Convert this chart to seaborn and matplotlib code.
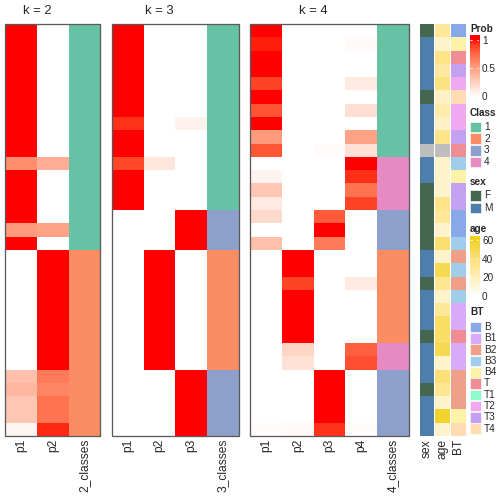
import numpy as np
import pandas as pd
import seaborn as sns
import matplotlib
matplotlib.use("Agg")
import matplotlib.pyplot as plt
from matplotlib.colors import ListedColormap, to_rgb
from matplotlib.patches import Rectangle

# ---------------- data ----------------
k2_p1 = [1, 1, 1, 1, 1, 1, 1, 1, 1, 1, 0.58, 1, 1, 1, 1, 0.52, 1,
         0, 0, 0, 0, 0, 0, 0, 0, 0, 0.33, 0.38, 0.30, 0.30, 0.05]
k2_p2 = [0, 0, 0, 0, 0, 0, 0, 0, 0, 0, 0.42, 0, 0, 0, 0, 0.48, 0,
         1, 1, 1, 1, 1, 1, 1, 1, 1, 0.67, 0.62, 0.70, 0.70, 0.95]
k2_class = [1, 1, 1, 1, 1, 1, 1, 1, 1, 1, 1, 1, 1, 1, 1, 1, 1,
            2, 2, 2, 2, 2, 2, 2, 2, 2, 2, 2, 2, 2, 2]

k3_p1 = [1, 1, 1, 1, 1, 1, 1, 0.93, 1, 1, 0.87, 1, 1, 1,
         0, 0, 0, 0, 0, 0, 0, 0, 0, 0, 0, 0, 0, 0, 0, 0, 0]
k3_p2 = [0, 0, 0, 0, 0, 0, 0, 0, 0, 0, 0.13, 0, 0, 0,
         0, 0, 0, 1, 1, 1, 1, 1, 1, 1, 1, 1, 0, 0, 0, 0, 0]
k3_p3 = [0, 0, 0, 0, 0, 0, 0, 0.07, 0, 0, 0, 0, 0, 0,
         1, 1, 1, 0, 0, 0, 0, 0, 0, 0, 0, 0, 1, 1, 1, 1, 1]
k3_class = [1, 1, 1, 1, 1, 1, 1, 1, 1, 1, 1, 1, 1, 1,
            3, 3, 3, 2, 2, 2, 2, 2, 2, 2, 2, 2, 3, 3, 3, 3, 3]

k4_p1 = [1, 0.97, 1, 1, 0.88, 1, 0.83, 1, 0.52, 0.82, 0, 0.06, 0.30, 0.12,
         0.20, 0, 0.33, 0, 0, 0, 0, 0, 0, 0, 0, 0, 0, 0, 0, 0, 0.02]
k4_p2 = [0, 0, 0, 0, 0, 0, 0, 0, 0, 0, 0, 0, 0, 0,
         0, 0, 0, 1, 1, 0.88, 1, 1, 1, 1, 0.22, 0.16, 0, 0, 0, 0, 0.03]
k4_p3 = [0, 0, 0, 0, 0, 0, 0, 0, 0, 0.02, 0, 0, 0, 0,
         0.80, 1, 0.67, 0, 0, 0, 0, 0, 0, 0, 0, 0, 1, 1, 1, 1, 0.93]
k4_p4 = [0, 0.03, 0, 0, 0.12, 0, 0.17, 0, 0.48, 0.16, 1, 0.94, 0.70, 0.88,
         0, 0, 0, 0, 0, 0.12, 0, 0, 0, 0, 0.78, 0.84, 0, 0, 0, 0, 0.02]
k4_class = [1, 1, 1, 1, 1, 1, 1, 1, 1, 1, 4, 4, 4, 4,
            3, 3, 3, 2, 2, 2, 2, 2, 2, 2, 4, 4, 3, 3, 3, 3, 3]

sex = ["F", "M", "M", "M", "M", "F", "M", "M", "M", None, "M", "M", "F", "F", "F", "F",
       "F", "M", "M", "F", "M", "M", "M", "F", "M", "M", "M", "F", "M", "M", "M"]
age = [30, 15, 35, 28, 37, 18, 25, 18, 35, np.nan, 15, 15, 15, 35, 30, 15,
       42, 15, 50, 33, 15, 30, 45, 45, 50, 15, 40, 33, 15, 58, 15]
BT = ["B", "B4", "T", "T3", "T2", "T4", "T2", "T2", "T3", "T", "B3", "B4", "T3", "T3", "B", "B",
      "B3", "B2", "B3", "B2", "B3", "B1", "B1", "T", "B1", "B1", "B2", "B2", "B2", "B4", "T4"]

class_levels = ["1", "2", "3", "4"]
sex_levels = ["F", "M"]
BT_levels = ["B", "B1", "B2", "B3", "B4", "T", "T1", "T2", "T3", "T4"]

# ---------------- styles ----------------
class_colors = ["#66C2A5", "#FC8D62", "#8DA0CB", "#E78AC3"]
sex_colors = ["#45664F", "#4E7EAB"]
na_color = "#BEBEBE"
BT_colors = ["#88A8E8", "#D8AAF8", "#F0A088", "#A0CEEA", "#FCF2A8",
             "#F08C94", "#8CFCCC", "#F0A8F0", "#C4A0F0", "#FFDCB4"]


def _srgb_to_lab(c):
    c = np.array(to_rgb(c))
    lin = np.where(c <= 0.04045, c / 12.92, ((c + 0.055) / 1.055) ** 2.4)
    M = np.array([[0.4124, 0.3576, 0.1805], [0.2126, 0.7152, 0.0722], [0.0193, 0.1192, 0.9505]])
    xyz = M @ lin / np.array([0.95047, 1.0, 1.08883])
    f = np.where(xyz > 0.008856, np.cbrt(xyz), 7.787 * xyz + 16 / 116)
    return np.array([116 * f[1] - 16, 500 * (f[0] - f[1]), 200 * (f[1] - f[2])])


def _lab_to_srgb(lab):
    L, a, b = lab
    fy = (L + 16) / 116
    fx = fy + a / 500
    fz = fy - b / 200
    f = np.array([fx, fy, fz])
    xyz = np.where(f ** 3 > 0.008856, f ** 3, (f - 16 / 116) / 7.787) * np.array([0.95047, 1.0, 1.08883])
    Mi = np.array([[3.2406, -1.5372, -0.4986], [-0.9689, 1.8758, 0.0415], [0.0557, -0.2040, 1.0570]])
    lin = np.clip(Mi @ xyz, 0, 1)
    s = np.where(lin <= 0.0031308, 12.92 * lin, 1.055 * lin ** (1 / 2.4) - 0.055)
    return np.clip(s, 0, 1)


def lab_ramp(c0, c1, n=256):
    l0, l1 = _srgb_to_lab(c0), _srgb_to_lab(c1)
    return ListedColormap([_lab_to_srgb(l0 + (l1 - l0) * t) for t in np.linspace(0, 1, n)])


prob_cmap = lab_ramp("white", "red")
age_cmap = lab_ramp("white", "#F0D21E")

W = H = 504
FONT = ["Liberation Sans", "DejaVu Sans"]
sns.set_theme(style="white")
plt.rcParams["font.family"] = FONT

fig = plt.figure(figsize=(7, 7), dpi=72)


def add_ax(x0, x1, y0, y1):
    return fig.add_axes([x0 / W, 1 - y1 / H, (x1 - x0) / W, (y1 - y0) / H])


TOP, BOT = 24, 436
CW = 31.7


def style_ax(ax):
    ax.tick_params(axis="x", length=0, pad=3, labelsize=12, rotation=90)
    ax.set_ylabel("")
    ax.set_xlabel("")
    for s in ax.spines.values():
        s.set_visible(False)


panels = [
    ("k = 2", 5.3, {"p1": k2_p1, "p2": k2_p2}, k2_class, "2_classes"),
    ("k = 3", 112.0, {"p1": k3_p1, "p2": k3_p2, "p3": k3_p3}, k3_class, "3_classes"),
    ("k = 4", 250.3, {"p1": k4_p1, "p2": k4_p2, "p3": k4_p3, "p4": k4_p4}, k4_class, "4_classes"),
]

class_cmap = ListedColormap(class_colors)
for title, x0, probs, cls, cname in panels:
    kk = len(probs)
    xm = x0 + kk * CW
    x1 = xm + CW
    df = pd.DataFrame(probs)
    ax = add_ax(x0, xm, TOP, BOT)
    sns.heatmap(df, ax=ax, cmap=prob_cmap, vmin=0, vmax=1, cbar=False,
                yticklabels=False, xticklabels=list(probs.keys()))
    style_ax(ax)
    axc = add_ax(xm, x1, TOP, BOT)
    sns.heatmap(pd.DataFrame({cname: cls}), ax=axc, cmap=class_cmap, vmin=0.5, vmax=4.5,
                cbar=False, yticklabels=False, xticklabels=[cname])
    style_ax(axc)
    fig.add_artist(Rectangle((x0 / W, 1 - BOT / H), (x1 - x0) / W, (BOT - TOP) / H,
                             transform=fig.transFigure, fill=False, edgecolor="#5A5A5A", lw=1.3))
    fig.text(((x0 + xm) / 2) / W, 1 - 10.5 / H, title, ha="center", va="center", fontsize=13)

# ---------------- annotations ----------------
sex_code = [np.nan if s is None else sex_levels.index(s) for s in sex]
ax_s = add_ax(420, 434, TOP, BOT)
ax_s.set_facecolor(na_color)
sns.heatmap(pd.DataFrame({"sex": sex_code}), ax=ax_s, cmap=ListedColormap(sex_colors),
            vmin=-0.5, vmax=1.5, cbar=False, yticklabels=False, xticklabels=["sex"])
style_ax(ax_s)

ax_a = add_ax(435, 450, TOP, BOT)
ax_a.set_facecolor(na_color)
sns.heatmap(pd.DataFrame({"age": age}), ax=ax_a, cmap=age_cmap, vmin=0, vmax=60,
            cbar=False, yticklabels=False, xticklabels=["age"])
style_ax(ax_a)

bt_code = [BT_levels.index(b) for b in BT]
ax_b = add_ax(451, 466, TOP, BOT)
sns.heatmap(pd.DataFrame({"BT": bt_code}), ax=ax_b, cmap=ListedColormap(BT_colors),
            vmin=-0.5, vmax=9.5, cbar=False, yticklabels=False, xticklabels=["BT"])
style_ax(ax_b)

# ---------------- legends ----------------
LX = 470
LFS = 10


def legend_title(y, txt):
    fig.text(LX / W, 1 - y / H, txt, ha="left", va="center", fontsize=LFS, fontweight="bold")


def color_bar(y_top, y_bot, cmap, vmin, vmax, ticks, ext_top, ext_bot):
    cax = add_ax(LX, LX + 9, y_top, y_bot)
    grad = np.linspace(vmin - ext_bot, vmax + ext_top, 200).reshape(-1, 1)
    cax.imshow(grad, aspect="auto", origin="lower", cmap=cmap, vmin=vmin, vmax=vmax,
               extent=(0, 1, vmin - ext_bot, vmax + ext_top))
    cax.set_xlim(0, 1)
    cax.set_ylim(vmin - ext_bot, vmax + ext_top)
    cax.set_xticks([])
    cax.yaxis.tick_right()
    cax.set_yticks(ticks)
    cax.set_yticklabels([("%g" % t) for t in ticks])
    cax.tick_params(axis="y", length=0, pad=3, labelsize=LFS)
    for t in ticks:
        cax.plot([0, 0.25], [t, t], color="white", lw=0.8)
        cax.plot([0.75, 1], [t, t], color="white", lw=0.8)
    for s in cax.spines.values():
        s.set_visible(False)


def legend_boxes(y0, step, labels, colors):
    for i, (lab, col) in enumerate(zip(labels, colors)):
        yc = y0 + i * step
        fig.add_artist(Rectangle((LX / W, 1 - (yc + 5.3) / H), 10.5 / W, 10.6 / H,
                                 transform=fig.transFigure, facecolor=col, edgecolor="white", lw=0.6))
        fig.text((LX + 14) / W, 1 - yc / H, lab, ha="left", va="center", fontsize=LFS)


legend_title(29, "Prob")
color_bar(35, 99, prob_cmap, 0, 1, [0, 0.5, 1], 0.079, 0.044)

legend_title(113, "Class")
legend_boxes(127, 11.6, class_levels, class_colors)

legend_title(182, "sex")
legend_boxes(195.5, 12.5, sex_levels, sex_colors)

legend_title(229, "age")
color_bar(236, 298, age_cmap, 0, 60, [0, 20, 40, 60], 4.3, 2.0)

legend_title(312, "BT")
legend_boxes(327, 11.3, BT_levels, BT_colors)

fig.savefig("out.png", dpi=72, facecolor="white")
